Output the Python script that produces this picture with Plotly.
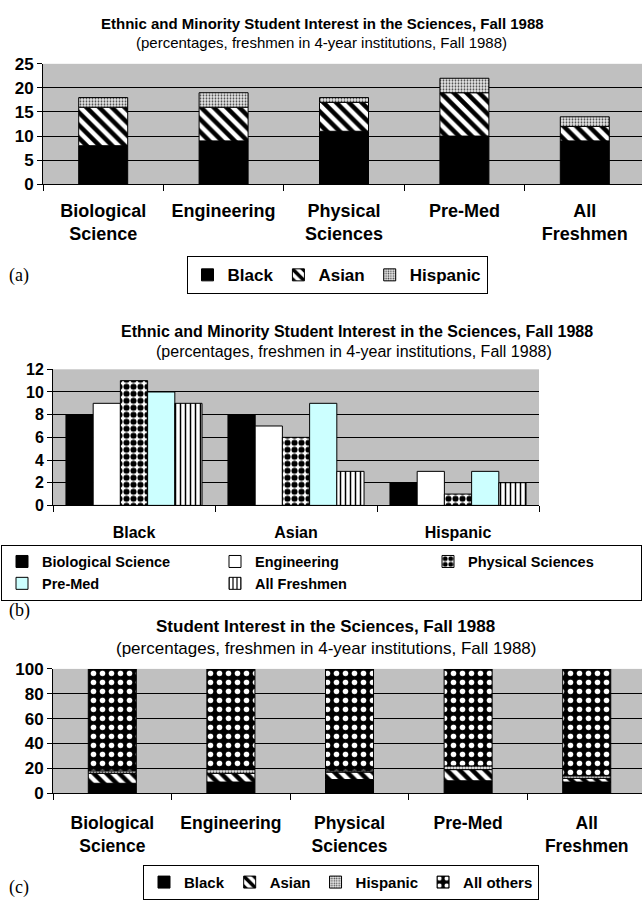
import plotly.graph_objects as go

# ---- data -------------------------------------------------------------
field_labels = ["Biological<br>Science", "Engineering", "Physical<br>Sciences",
                "Pre-Med", "All<br>Freshmen"]
field_names = ["Biological Science", "Engineering", "Physical Sciences",
               "Pre-Med", "All Freshmen"]
group_names = ["Black", "Asian", "Hispanic"]

black = [8, 9, 11, 10, 9]
asian = [8, 7, 6, 9, 3]
hispanic = [2, 3, 1, 3, 2]
all_others = [82, 81, 82, 78, 86]

# ---- styling ----------------------------------------------------------
W, H = 642, 908
SANS = "Liberation Sans, Arial, sans-serif"
SERIF = "Liberation Serif, Times New Roman, serif"
PLOT_BG = "#C0C0C0"
EDGE = dict(color="black", width=1)


def px_x(x):
    return x / W


def px_y(y):
    return 1 - y / H


def patt(shape, fg, bg, size, solidity):
    return dict(shape=shape, fgcolor=fg, bgcolor=bg, fgopacity=1,
                size=size, solidity=solidity, fillmode="replace")


style_black = dict(color="black", line=EDGE)
style_asian = dict(color="white", line=EDGE,
                   pattern=patt("\\", "black", "white", 9, 0.5))
style_hisp = dict(color="#e4e4e4", line=EDGE,
                  pattern=patt(".", "#444444", "#e6e6e6", 3, 0.3))
style_others = dict(color="black", line=EDGE,
                    pattern=patt(".", "white", "black", 9, 0.3))

field_styles = [
    dict(color="black", line=EDGE),
    dict(color="white", line=EDGE),
    dict(color="white", line=EDGE, pattern=patt(".", "black", "white", 7, 0.6)),
    dict(color="#CCFFFF", line=EDGE),
    dict(color="white", line=EDGE, pattern=patt("|", "black", "white", 5, 0.3)),
]

fig = go.Figure()

# ---- panel (a): stacked minority shares per field ---------------------
stack_w = 0.407
base = [0] * len(black)
for name, vals, st in [("Black", black, style_black),
                       ("Asian", asian, style_asian),
                       ("Hispanic", hispanic, style_hisp)]:
    fig.add_trace(go.Bar(x=field_labels, y=vals, base=base, name=name,
                         marker=st, width=stack_w, offset=-stack_w / 2,
                         xaxis="x", yaxis="y", legend="legend",
                         hoverinfo="skip"))
    base = [b + v for b, v in zip(base, vals)]

# ---- panel (b): grouped by ethnicity, one bar per field ---------------
group_w = 0.84
bar_w = group_w / len(field_names)
for i, fname in enumerate(field_names):
    vals = [black[i], asian[i], hispanic[i]]
    fig.add_trace(go.Bar(x=group_names, y=vals, name=fname,
                         marker=field_styles[i], width=bar_w,
                         offset=-group_w / 2 + i * bar_w,
                         xaxis="x2", yaxis="y2", legend="legend2",
                         hoverinfo="skip"))

# ---- panel (c): full 100% stack including all other students ----------
base = [0] * len(black)
for name, vals, st in [("Black", black, style_black),
                       ("Asian", asian, style_asian),
                       ("Hispanic", hispanic, style_hisp),
                       ("All others", all_others, style_others)]:
    fig.add_trace(go.Bar(x=field_labels, y=vals, base=base, name=name,
                         marker=st, width=0.405, offset=-0.405 / 2,
                         xaxis="x3", yaxis="y3", legend="legend3",
                         hoverinfo="skip"))
    base = [b + v for b, v in zip(base, vals)]


def xax(domain, rng, size, standoff, anchor):
    return dict(domain=domain, range=rng, type="category", anchor=anchor,
                tickson="boundaries", ticks="outside", ticklen=6,
                tickcolor="black", showline=True, linecolor="black",
                showgrid=False, ticklabelstandoff=standoff,
                tickfont=dict(family=SANS, size=size, color="black", weight="bold"))


def yax(domain, rng, dtick, size, anchor):
    return dict(domain=domain, range=rng, dtick=dtick, anchor=anchor,
                ticks="outside", ticklen=5, tickcolor="black",
                showline=True, linecolor="black", zeroline=False,
                showgrid=True, gridcolor="black", gridwidth=1,
                tickfont=dict(family=SANS, size=size, color="black", weight="bold"))


def legend_box(x, xanchor, y, yanchor, size, **kw):
    d = dict(orientation="h", x=x, xanchor=xanchor, y=y, yanchor=yanchor,
             bordercolor="black", borderwidth=1, bgcolor="white",
             traceorder="normal", itemclick=False, itemdoubleclick=False,
             font=dict(family=SANS, size=size, color="black", weight="bold"))
    d.update(kw)
    return d


def text(x, y, s, size, family=SANS, xanchor="center"):
    return dict(x=x, y=y, xref="paper", yref="paper", text=s, showarrow=False,
                xanchor=xanchor, yanchor="middle",
                font=dict(family=family, size=size, color="black"))


sub = "(percentages, freshmen in 4-year institutions, Fall 1988)"
eth_title = "<b>Ethnic and Minority Student Interest in the Sciences, Fall 1988</b>"

fig.update_layout(
    width=W, height=H, margin=dict(l=0, r=0, t=0, b=0),
    paper_bgcolor="white", plot_bgcolor=PLOT_BG,
    barmode="overlay", showlegend=True,
    xaxis=xax([px_x(43), 1], [-0.5, 4.475], 18, 10, "y"),
    yaxis=yax([px_y(179), px_y(56)], [0, 25], 5, 17, "x"),
    xaxis2=xax([px_x(53), px_x(539)], [-0.5, 2.5], 16, 12, "y2"),
    yaxis2=yax([px_y(507), px_y(368)], [0, 12], 2, 16, "x2"),
    xaxis3=xax([px_x(53), 1], [-0.5, 4.466], 17.5, 14, "y3"),
    yaxis3=yax([px_y(801), px_y(674)], [0, 100], 20, 17, "x3"),
    legend=legend_box(px_x(337), "center", px_y(272), "middle", 17),
    legend2=legend_box(px_x(7), "left", px_y(547), "top", 14.5,
                       entrywidth=168, entrywidthmode="pixels"),
    legend3=legend_box(px_x(341), "center", px_y(892), "middle", 15),
    annotations=[
        text(0.502, px_y(15), eth_title, 15),
        text(0.5, px_y(34), sub, 15),
        text(px_x(357), px_y(329), eth_title, 16),
        text(px_x(354), px_y(350), sub, 16),
        text(px_x(325), px_y(631), "<b>Student Interest in the Sciences, Fall 1988</b>", 17),
        text(px_x(326), px_y(653), sub, 17),
        text(px_x(7), px_y(272), "(a)", 18, SERIF, "left"),
        text(px_x(7), px_y(614), "(b)", 18, SERIF, "left"),
        text(px_x(7), px_y(897), "(c)", 18, SERIF, "left"),
    ],
)

fig.write_html("out.html")
